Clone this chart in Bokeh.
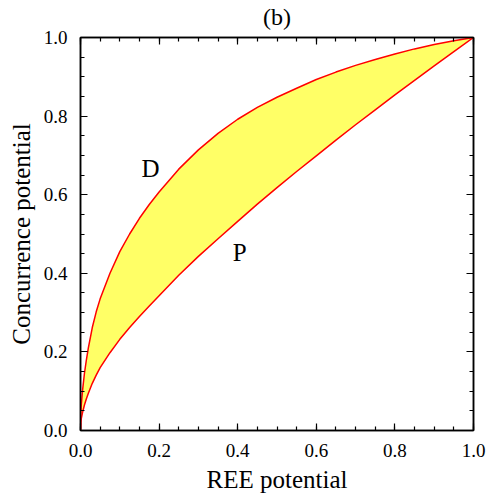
from bokeh.plotting import figure
from bokeh.models import FixedTicker, LinearAxis, Range1d, Label, NumeralTickFormatter
from bokeh.embed import file_html
from bokeh.resources import INLINE

# data
ree = [0, 0.001, 0.002, 0.005, 0.01, 0.015, 0.02, 0.03, 0.04, 0.05, 0.075, 0.1, 0.125, 0.15,
       0.175, 0.2, 0.25, 0.3, 0.35, 0.4, 0.45, 0.5, 0.55, 0.6, 0.65, 0.7, 0.75, 0.8, 0.85,
       0.9, 0.95, 1.0]
conc_D = [0, 0.045, 0.065, 0.10, 0.145, 0.18, 0.21, 0.262, 0.302, 0.335, 0.40, 0.455, 0.50,
          0.54, 0.575, 0.607, 0.665, 0.714, 0.756, 0.792, 0.822, 0.848, 0.871, 0.893, 0.912,
          0.929, 0.944, 0.958, 0.971, 0.982, 0.992, 1.0]
conc_P = [0, 0.022, 0.03, 0.045, 0.065, 0.081, 0.095, 0.12, 0.141, 0.16, 0.198, 0.232, 0.262,
          0.29, 0.317, 0.343, 0.395, 0.443, 0.488, 0.532, 0.576, 0.618, 0.659, 0.699, 0.739,
          0.778, 0.816, 0.854, 0.891, 0.928, 0.964, 1.0]
curve_names = ["D", "P"]
name_x = [0.178, 0.405]
name_y = [0.667, 0.453]
major_ticks = [0, 0.2, 0.4, 0.6, 0.8, 1.0]
minor_ticks = [i * 0.05 for i in range(21)]
title_text = "(b)"
x_label = "REE potential"
y_label = "Concurrence potential"

FONT = "Liberation Serif"

p = figure(width=498, height=498, output_backend="svg", toolbar_location=None,
           x_range=Range1d(0, 1), y_range=Range1d(0, 1),
           x_axis_location=None, y_axis_location=None,
           min_border_left=80, min_border_right=25, min_border_top=37, min_border_bottom=68)
p.xgrid.visible = False
p.ygrid.visible = False
p.outline_line_color = "black"
p.outline_line_width = 1.5
p.background_fill_color = "white"
p.border_fill_color = "white"

p.varea(x=ree, y1=conc_P, y2=conc_D, fill_color="#ffff66")
p.line(ree, conc_D, line_color="red", line_width=1.5)
p.line(ree, conc_P, line_color="red", line_width=1.5)

def make_axis(show_labels, label=None, label_standoff=6, label_size="25px", tick_standoff=13):
    ax = LinearAxis(ticker=FixedTicker(ticks=major_ticks, minor_ticks=minor_ticks))
    ax.formatter = NumeralTickFormatter(format="0.0")
    ax.axis_line_color = "black"
    ax.axis_line_width = 1.5
    ax.major_tick_in = 7
    ax.major_tick_out = 0
    ax.minor_tick_in = 4
    ax.minor_tick_out = 0
    ax.major_tick_line_color = "black"
    ax.minor_tick_line_color = "black"
    ax.major_tick_line_width = 1.2
    ax.minor_tick_line_width = 1.2
    ax.major_label_text_font = FONT
    if show_labels:
        ax.major_label_text_font_size = "19px"
        ax.major_label_text_color = "black"
        ax.major_label_standoff = tick_standoff
    else:
        ax.major_label_text_font_size = "0px"
        ax.major_label_text_color = None
        ax.major_label_standoff = 0
    if label:
        ax.axis_label = label
        ax.axis_label_text_font = FONT
        ax.axis_label_text_font_size = label_size
        ax.axis_label_text_font_style = "normal"
        ax.axis_label_text_color = "black"
        ax.axis_label_standoff = label_standoff
    return ax

p.add_layout(make_axis(True, x_label, label_standoff=6, tick_standoff=13), "below")
p.add_layout(make_axis(True, y_label, label_standoff=6, tick_standoff=13), "left")
p.add_layout(make_axis(False, title_text, label_standoff=8, label_size="24px"), "above")
p.add_layout(make_axis(False), "right")

for name, xx, yy in zip(curve_names, name_x, name_y):
    p.add_layout(Label(x=xx, y=yy, text=name, text_font=FONT, text_font_size="25px",
                       text_align="center", text_baseline="middle", text_color="black"))

open("out.html", "w").write(file_html(p, INLINE))
